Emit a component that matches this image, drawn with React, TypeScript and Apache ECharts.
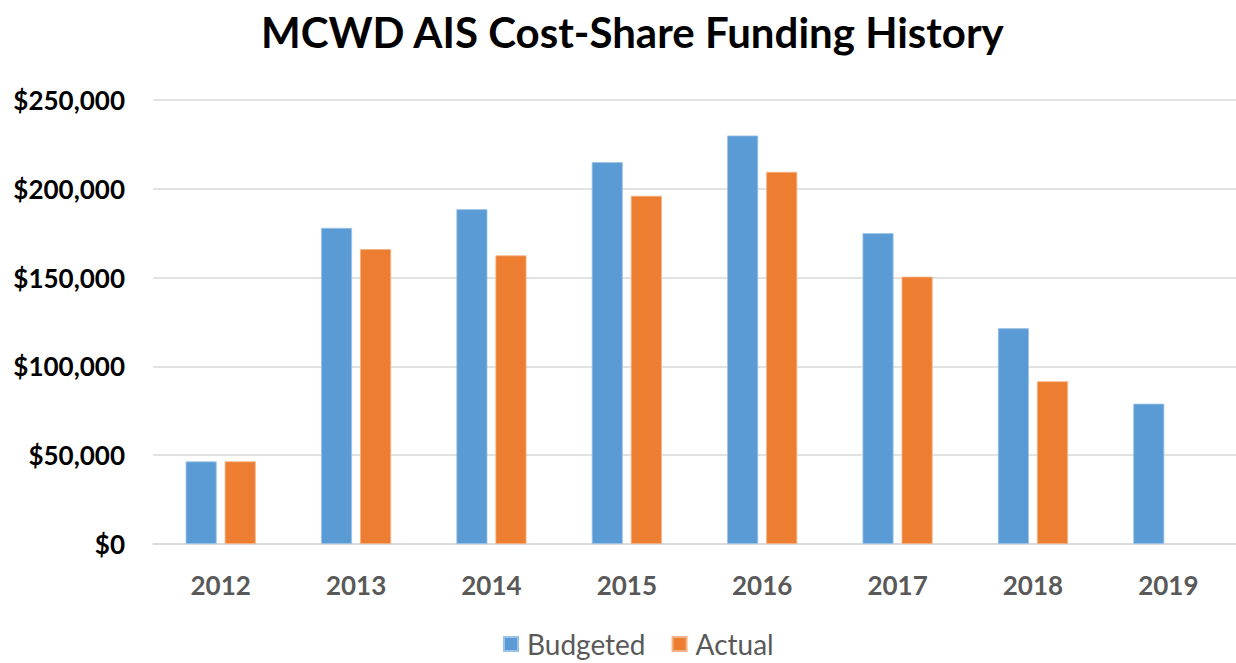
import React, { useEffect, useRef } from "react";
import * as echarts from "echarts";

const years = ["2012", "2013", "2014", "2015", "2016", "2017", "2018", "2019"];
const budgeted = [46500, 178000, 188500, 215000, 230000, 175000, 121500, 79000];
const actual: (number | null)[] = [46500, 166000, 162500, 196000, 209500, 150500, 91600, null];
const seriesNames = ["Budgeted", "Actual"];
const titleText = "MCWD AIS Cost-Share Funding History";

export default function App() {
  const ref = useRef<HTMLDivElement>(null);
  useEffect(() => {
    if (!ref.current) return;
    const chart = echarts.init(ref.current, undefined, { renderer: "svg" });
    const font = "Lato, 'Open Sans', sans-serif";
    chart.setOption({
      animation: false,
      backgroundColor: "#ffffff",
      title: {
        text: titleText,
        left: 256,
        top: 6,
        textStyle: { fontFamily: font, fontWeight: "bold", fontSize: 42, color: "#000000" },
      },
      legend: {
        top: 625,
        left: 498,
        icon: "rect",
        itemWidth: 14,
        itemHeight: 14,
        itemGap: 26,
        data: seriesNames,
        textStyle: { fontFamily: font, fontSize: 28, color: "#595959", padding: [0, 0, 0, 4] },
      },
      grid: { left: 153, right: -4, top: 100, bottom: 119, containLabel: false },
      xAxis: {
        type: "category",
        data: years,
        axisLine: { show: true, lineStyle: { color: "#D9D9D9", width: 1.5 } },
        axisTick: { show: false },
        axisLabel: { fontFamily: font, fontWeight: "bold", fontSize: 26, color: "#595959", margin: 28 },
      },
      yAxis: {
        type: "value",
        min: 0,
        max: 250000,
        interval: 50000,
        axisLine: { show: false },
        axisTick: { show: false },
        splitLine: { lineStyle: { color: "#D9D9D9", width: 1.5 } },
        axisLabel: {
          fontFamily: font,
          fontWeight: "bold",
          fontSize: 26,
          color: "#000000",
          margin: 28,
          formatter: (v: number) => "$" + v.toLocaleString("en-US"),
        },
      },
      series: [
        {
          name: seriesNames[0],
          type: "bar",
          data: budgeted,
          barWidth: 31,
          barGap: "26%",
          itemStyle: { color: "#5B9BD5", borderColor: "#9CC3E6", borderWidth: 0.8 },
        },
        {
          name: seriesNames[1],
          type: "bar",
          data: actual,
          barWidth: 31,
          barGap: "26%",
          itemStyle: { color: "#ED7D31", borderColor: "#F4B183", borderWidth: 0.8 },
        },
      ],
    });
    return () => chart.dispose();
  }, []);
  return (
    <div style={{ position: "fixed", left: 0, top: 0, width: 1236, height: 663, overflow: "hidden" }}>
      <div ref={ref} style={{ width: 1236, height: 663 }} />
    </div>
  );
}
